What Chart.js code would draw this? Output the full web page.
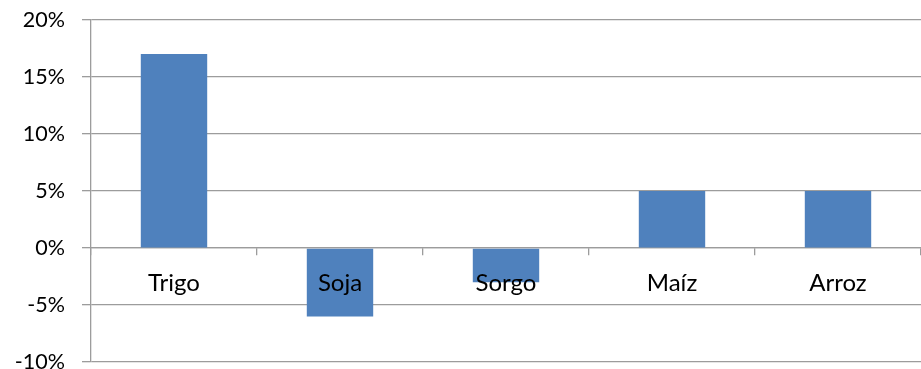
<!DOCTYPE html>
<html>
<head>
<meta charset="utf-8">
<script src="https://cdn.jsdelivr.net/npm/chart.js@4/dist/chart.umd.min.js"></script>
<style>
    html, body { margin: 0; padding: 0; background: #fff; overflow: hidden; }
    #wrap { width: 921px; height: 402px; position: relative; top: -10px; }
</style>
</head>
<body>
<div id="wrap"><canvas id="chart"></canvas></div>
<script>
// Variation by crop
const crops = ['Trigo', 'Soja', 'Sorgo', 'Maíz', 'Arroz'];
const changes = [17, -6, -3, 5, 5];
const yTicks = [-10, -5, 0, 5, 10, 15, 20];

const gridColor = '#9c9c9c';
const fontFamily = 'Lato, "Open Sans", sans-serif';

// Draw the category names over the bars, just below the zero line
const categoryLabels = {
    id: 'categoryLabels',
    afterDatasetsDraw(chart) {
        const x = chart.scales.x;
        const y = chart.scales.y;
        const ctx = chart.ctx;
        const zero = y.getPixelForValue(0);
        ctx.save();
        ctx.font = '24px ' + fontFamily;
        ctx.fillStyle = '#000';
        ctx.textAlign = 'center';
        ctx.textBaseline = 'middle';
        crops.forEach((name, i) => {
            ctx.fillText(name, x.getPixelForValue(i), zero + 35);
        });
        ctx.restore();
    }
};

new Chart(document.getElementById('chart'), {
    type: 'bar',
    data: {
        labels: crops,
        datasets: [{
            data: changes,
            backgroundColor: '#4F81BD',
            borderWidth: 0,
            barPercentage: 0.4,
            categoryPercentage: 1
        }]
    },
    options: {
        responsive: true,
        maintainAspectRatio: false,
        animation: false,
        layout: { padding: { top: 8, right: 0, bottom: 17, left: 0 } },
        plugins: {
            legend: { display: false },
            tooltip: { enabled: false }
        },
        scales: {
            x: {
                position: { y: 0 },
                offset: true,
                grid: {
                    offset: true,
                    drawOnChartArea: false,
                    drawTicks: true,
                    tickLength: 7,
                    color: gridColor,
                    lineWidth: 1.3
                },
                border: { color: gridColor, width: 1.3 },
                ticks: { display: false }
            },
            y: {
                min: -10,
                max: 20,
                afterFit(scale) { scale.width = 91; },
                afterBuildTicks(scale) {
                    scale.ticks = yTicks.map(v => ({ value: v }));
                },
                grid: {
                    color: gridColor,
                    lineWidth: 1.3,
                    tickLength: 9
                },
                border: { color: gridColor, width: 1.3 },
                ticks: {
                    padding: 17,
                    color: '#000',
                    font: { size: 21.5, family: fontFamily },
                    callback: v => v + '%'
                }
            }
        }
    },
    plugins: [categoryLabels]
});
</script>
</body>
</html>
